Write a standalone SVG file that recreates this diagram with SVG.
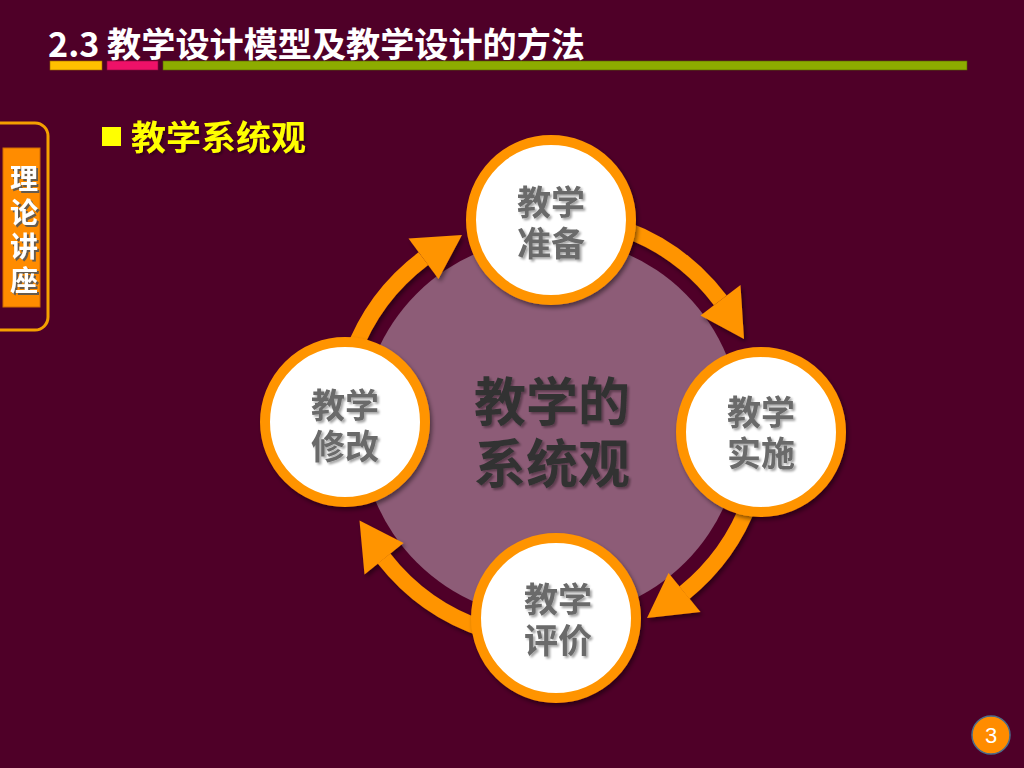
<svg xmlns="http://www.w3.org/2000/svg" width="1024" height="768" viewBox="0 0 1024 768">
<defs>
<filter id="sh" x="-20%" y="-20%" width="140%" height="140%">
<feDropShadow dx="2" dy="3" stdDeviation="2" flood-color="#000" flood-opacity="0.45"/>
</filter>
<filter id="tsh" x="-10%" y="-10%" width="130%" height="130%">
<feDropShadow dx="2" dy="2" stdDeviation="1" flood-color="#000" flood-opacity="0.35"/>
</filter>
<filter id="wsh" x="-10%" y="-10%" width="130%" height="130%">
<feDropShadow dx="2" dy="2" stdDeviation="0.6" flood-color="#555" flood-opacity="0.9"/>
</filter>
</defs>
<style>
text{font-family:"Noto Sans CJK SC","Noto Sans",sans-serif;font-weight:bold}
.node circle{fill:#fff;stroke:#ff9400;stroke-width:10}
.node text{fill:#6b6b6b;font-size:34px;text-anchor:middle}
.shaft{fill:none;stroke:#ff9400;stroke-width:16}
.head{fill:#ff9400}
</style>
<rect width="1024" height="768" fill="#4f0028"/>

<g id="header">
<text x="48" y="57" font-size="34" fill="#fff" textLength="537" lengthAdjust="spacingAndGlyphs">2.3 教学设计模型及教学设计的方法</text>
<rect x="50" y="61" width="52" height="9" fill="#ffc000" stroke="#9a6a00" stroke-width="0.6"/>
<rect x="107" y="61" width="51" height="9" fill="#ee1168" stroke="#8a0a3c" stroke-width="0.6"/>
<rect x="163" y="61" width="804" height="9" fill="#8dac00" stroke="#556600" stroke-width="0.6"/>
</g>

<g id="side-tab">
<rect x="-20" y="123" width="68" height="207" rx="13" fill="none" stroke="#f5a000" stroke-width="3"/>
<rect x="3" y="148" width="37" height="159" fill="#ff8c00" stroke="#d06a00" stroke-width="1"/>
<text fill="#fff" font-size="28" text-anchor="middle" filter="url(#wsh)"><tspan x="24" y="189">理</tspan><tspan x="24" y="223">论</tspan><tspan x="24" y="257">讲</tspan><tspan x="24" y="291">座</tspan></text>
</g>

<g id="subtitle">
<rect x="102" y="127" width="19" height="19" fill="#ffff00"/>
<text x="131" y="150" font-size="34" fill="#ffff00" filter="url(#tsh)" textLength="175" lengthAdjust="spacingAndGlyphs">教学系统观</text>
</g>

<g id="center">
<circle cx="551" cy="428" r="190" fill="#8d5c77"/>
<text fill="#333" font-size="52" text-anchor="middle" filter="url(#tsh)"><tspan x="552" y="421">教学的</tspan><tspan x="552" y="483">系统观</tspan></text>
</g>

<g id="connectors" filter="url(#sh)">
<path class="shaft" d="M623.5 228.8 A212 212 0 0 1 720.3 300.4"/>
<polygon class="head" points="744,339 740.5,285 700.5,315.5"/>
<path class="shaft" d="M750.2 500.5 A212 212 0 0 1 684.4 592.7"/>
<polygon class="head" points="647,618 700.5,612 668.5,573"/>
<path class="shaft" d="M485.5 629.6 A212 212 0 0 1 384.0 558.5"/>
<polygon class="head" points="359.5,520.5 364.5,574.5 403.5,543"/>
<path class="shaft" d="M351.8 355.5 A212 212 0 0 1 423.4 258.7"/>
<polygon class="head" points="462,235 408.5,238.5 438.5,279"/>
</g>

<g id="node-prepare" class="node">
<circle cx="551" cy="220" r="80" filter="url(#sh)"/>
<text filter="url(#tsh)"><tspan x="551" y="215">教学</tspan><tspan x="551" y="256">准备</tspan></text>
</g>
<g id="node-implement" class="node">
<circle cx="761" cy="432" r="80" filter="url(#sh)"/>
<text filter="url(#tsh)"><tspan x="761" y="425">教学</tspan><tspan x="761" y="466">实施</tspan></text>
</g>
<g id="node-evaluate" class="node">
<circle cx="556" cy="618" r="80" filter="url(#sh)"/>
<text filter="url(#tsh)"><tspan x="558" y="612">教学</tspan><tspan x="558" y="653">评价</tspan></text>
</g>
<g id="node-revise" class="node">
<circle cx="345" cy="422" r="80" filter="url(#sh)"/>
<text filter="url(#tsh)"><tspan x="345" y="418">教学</tspan><tspan x="345" y="459">修改</tspan></text>
</g>

<g id="page-number">
<circle cx="991" cy="735" r="19" fill="#ff8c00" stroke="#4a6d8c" stroke-width="1.5"/>
<text x="991" y="743" font-size="22" fill="#fff" text-anchor="middle" style="font-family:'Liberation Sans',sans-serif;font-weight:normal">3</text>
</g>
</svg>
